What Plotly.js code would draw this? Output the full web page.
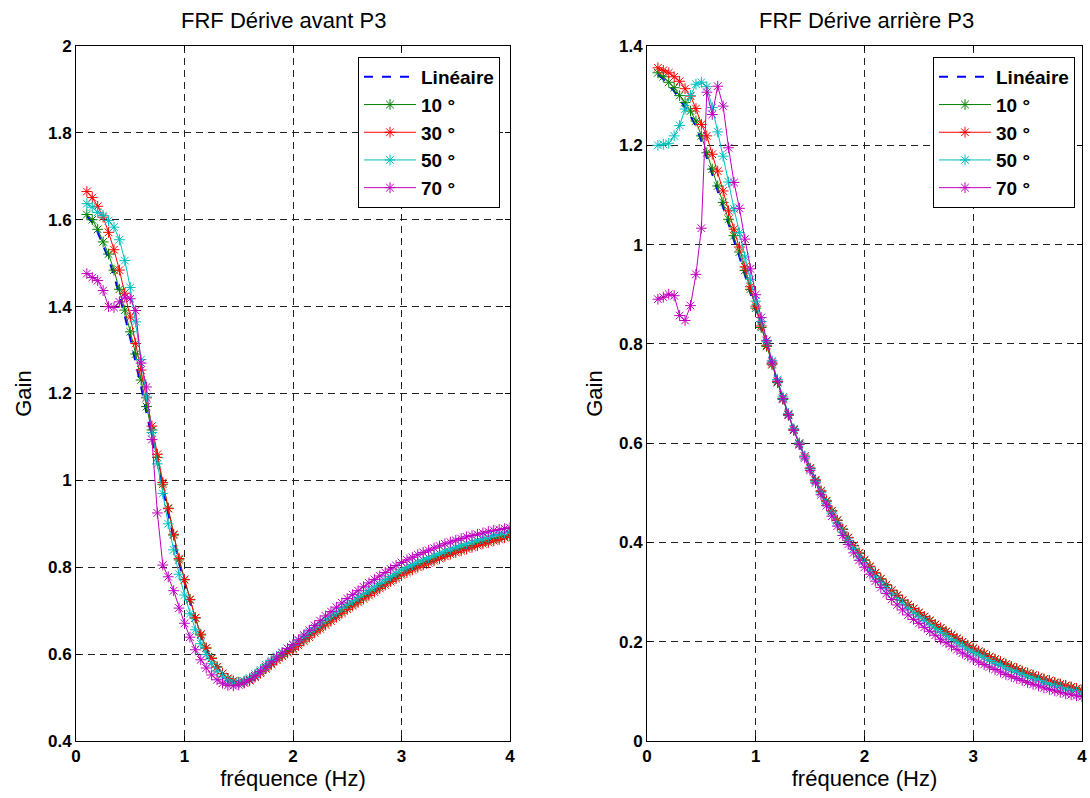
<!DOCTYPE html>
<html>
<head>
<meta charset="utf-8">
<script src="https://cdn.plot.ly/plotly-3.0.1.min.js"></script>
<style>
html,body{margin:0;padding:0;background:#fff;}
#chart{width:1090px;height:798px;}
</style>
</head>
<body>
<div id="chart"></div>
<script>
// Frequencies (Hz)
const freq = [0.10,0.15,0.20,0.25,0.30,0.35,0.40,0.45,0.50,
0.55,0.60,0.65,0.70,0.75,0.80,0.85,0.90,0.95,1.00,
1.05,1.10,1.15,1.20,1.25,1.30,1.35,1.40,1.45,1.50,
1.55,1.60,1.65,1.70,1.75,1.80,1.85,1.90,1.95,2.00,
2.05,2.10,2.15,2.20,2.25,2.30,2.35,2.40,2.45,2.50,
2.55,2.60,2.65,2.70,2.75,2.80,2.85,2.90,2.95,3.00,
3.05,3.10,3.15,3.20,3.25,3.30,3.35,3.40,3.45,3.50,
3.55,3.60,3.65,3.70,3.75,3.80,3.85,3.90,3.95,4.00];

const seriesNames = ["Linéaire","10 °","30 °","50 °","70 °"];

// Tick values and labels
const xTicks = [0, 1, 2, 3, 4];
const xTickLabels = ["0", "1", "2", "3", "4"];
const avantYTicks = [0.4, 0.6, 0.8, 1.0, 1.2, 1.4, 1.6, 1.8, 2.0];
const avantYTickLabels = ["0.4", "0.6", "0.8", "1", "1.2", "1.4", "1.6", "1.8", "2"];
const arriereYTicks = [0, 0.2, 0.4, 0.6, 0.8, 1.0, 1.2, 1.4];
const arriereYTickLabels = ["0", "0.2", "0.4", "0.6", "0.8", "1", "1.2", "1.4"];

// ---- FRF Dérive avant P3 ----
const avantLin = [1.608,1.594,1.571,1.541,1.510,1.472,1.427,1.378,1.327,
1.274,1.215,1.155,1.100,1.040,0.980,0.925,0.866,0.810,0.765,
0.720,0.679,0.641,0.612,0.589,0.570,0.554,0.544,0.538,0.535,
0.537,0.542,0.550,0.559,0.569,0.579,0.589,0.598,0.606,0.614,
0.624,0.634,0.643,0.653,0.662,0.671,0.680,0.689,0.698,0.707,
0.715,0.723,0.731,0.739,0.747,0.755,0.763,0.771,0.778,0.786,
0.792,0.798,0.804,0.809,0.814,0.819,0.824,0.829,0.834,0.838,
0.842,0.846,0.850,0.854,0.858,0.861,0.865,0.868,0.871,0.874];
const avant10 = [1.612,1.600,1.578,1.549,1.521,1.484,1.440,1.392,1.342,
1.291,1.231,1.170,1.116,1.053,0.991,0.936,0.874,0.817,0.771,
0.725,0.683,0.644,0.614,0.591,0.571,0.555,0.544,0.538,0.535,
0.537,0.542,0.550,0.559,0.569,0.579,0.589,0.598,0.606,0.614,
0.624,0.634,0.643,0.653,0.662,0.671,0.680,0.689,0.698,0.707,
0.715,0.723,0.731,0.739,0.747,0.755,0.763,0.771,0.778,0.786,
0.792,0.798,0.804,0.809,0.814,0.819,0.824,0.829,0.834,0.838,
0.842,0.846,0.850,0.854,0.858,0.861,0.865,0.868,0.871,0.874];
const avant30 = [1.665,1.651,1.631,1.606,1.571,1.531,1.484,1.431,1.376,
1.315,1.254,1.190,1.125,1.060,0.995,0.935,0.876,0.820,0.772,
0.726,0.684,0.646,0.614,0.590,0.570,0.555,0.544,0.538,0.534,
0.534,0.539,0.547,0.556,0.566,0.576,0.586,0.595,0.603,0.611,
0.620,0.630,0.639,0.649,0.658,0.667,0.676,0.685,0.694,0.703,
0.711,0.719,0.727,0.735,0.743,0.751,0.759,0.767,0.774,0.782,
0.788,0.794,0.800,0.805,0.810,0.815,0.820,0.825,0.830,0.834,
0.838,0.842,0.846,0.850,0.854,0.857,0.861,0.864,0.868,0.872];
const avant50 = [1.637,1.629,1.617,1.610,1.598,1.583,1.554,1.506,1.444,
1.365,1.278,1.192,1.110,1.038,0.970,0.900,0.840,0.784,0.736,
0.693,0.656,0.624,0.599,0.578,0.561,0.549,0.540,0.535,0.534,
0.538,0.545,0.554,0.564,0.575,0.585,0.595,0.604,0.613,0.621,
0.631,0.641,0.651,0.661,0.670,0.679,0.688,0.697,0.706,0.715,
0.723,0.731,0.739,0.747,0.755,0.763,0.771,0.779,0.786,0.794,
0.800,0.806,0.812,0.817,0.822,0.827,0.832,0.837,0.842,0.846,
0.850,0.854,0.858,0.862,0.866,0.869,0.873,0.876,0.879,0.882];
const avant70 = [1.476,1.467,1.460,1.437,1.400,1.398,1.411,1.422,1.418,
1.391,1.270,1.215,1.094,0.925,0.805,0.778,0.746,0.706,0.671,
0.639,0.610,0.587,0.568,0.552,0.541,0.533,0.528,0.527,0.529,
0.534,0.541,0.550,0.560,0.571,0.582,0.593,0.603,0.613,0.622,
0.633,0.644,0.655,0.666,0.677,0.688,0.698,0.708,0.718,0.728,
0.737,0.746,0.755,0.764,0.772,0.780,0.788,0.796,0.804,0.811,
0.817,0.823,0.829,0.834,0.839,0.844,0.849,0.854,0.858,0.862,
0.866,0.870,0.873,0.876,0.879,0.882,0.885,0.887,0.889,0.891];

// ---- FRF Dérive arrière P3 ----
const arriereLin = [1.342,1.333,1.321,1.309,1.292,1.277,1.259,1.238,1.208,
1.174,1.141,1.107,1.074,1.041,1.008,0.975,0.940,0.903,0.866,
0.830,0.793,0.757,0.722,0.688,0.656,0.626,0.598,0.573,0.549,
0.525,0.503,0.483,0.463,0.444,0.426,0.409,0.393,0.378,0.364,
0.351,0.338,0.326,0.314,0.303,0.293,0.283,0.274,0.266,0.258,
0.250,0.242,0.234,0.227,0.220,0.213,0.206,0.199,0.192,0.186,
0.180,0.175,0.169,0.164,0.159,0.154,0.149,0.145,0.140,0.136,
0.132,0.128,0.124,0.121,0.117,0.114,0.111,0.108,0.105,0.102];
const arriere10 = [1.346,1.338,1.327,1.316,1.300,1.286,1.269,1.249,1.219,
1.185,1.152,1.118,1.085,1.051,1.018,0.985,0.948,0.910,0.872,
0.833,0.795,0.758,0.722,0.688,0.656,0.626,0.598,0.573,0.549,
0.525,0.503,0.483,0.463,0.444,0.426,0.409,0.393,0.378,0.364,
0.351,0.338,0.326,0.314,0.303,0.293,0.283,0.274,0.266,0.258,
0.250,0.242,0.234,0.227,0.220,0.213,0.206,0.199,0.192,0.186,
0.180,0.175,0.169,0.164,0.159,0.154,0.149,0.145,0.140,0.136,
0.132,0.128,0.124,0.121,0.117,0.114,0.111,0.108,0.105,0.102];
const arriere30 = [1.356,1.351,1.346,1.338,1.329,1.314,1.299,1.274,1.242,
1.219,1.182,1.148,1.108,1.068,1.031,0.995,0.955,0.915,0.876,
0.836,0.797,0.760,0.724,0.690,0.658,0.628,0.600,0.574,0.550,
0.526,0.504,0.484,0.464,0.445,0.427,0.410,0.394,0.379,0.365,
0.352,0.339,0.327,0.315,0.304,0.294,0.284,0.275,0.267,0.259,
0.251,0.243,0.235,0.228,0.221,0.214,0.207,0.200,0.193,0.187,
0.181,0.176,0.170,0.165,0.160,0.155,0.150,0.146,0.141,0.137,
0.133,0.129,0.125,0.122,0.118,0.115,0.112,0.109,0.106,0.103];
const arriere50 = [1.200,1.202,1.204,1.219,1.240,1.273,1.300,1.323,1.327,
1.318,1.276,1.227,1.178,1.126,1.072,1.024,0.975,0.930,0.886,
0.845,0.805,0.766,0.728,0.693,0.660,0.629,0.600,0.573,0.548,
0.523,0.500,0.479,0.459,0.439,0.421,0.404,0.388,0.372,0.358,
0.344,0.331,0.319,0.307,0.296,0.286,0.276,0.267,0.258,0.250,
0.242,0.234,0.226,0.219,0.212,0.205,0.198,0.191,0.185,0.179,
0.173,0.168,0.162,0.157,0.152,0.147,0.143,0.138,0.134,0.130,
0.126,0.122,0.118,0.115,0.111,0.108,0.105,0.102,0.099,0.097];
const arriere70 = [0.890,0.894,0.900,0.897,0.857,0.847,0.877,0.940,1.033,
1.307,1.262,1.319,1.279,1.195,1.125,1.073,1.011,0.951,0.899,
0.853,0.807,0.763,0.725,0.690,0.657,0.626,0.597,0.570,0.545,
0.520,0.496,0.474,0.453,0.433,0.414,0.396,0.379,0.364,0.350,
0.336,0.322,0.309,0.297,0.285,0.274,0.264,0.254,0.245,0.237,
0.229,0.221,0.213,0.205,0.198,0.191,0.184,0.177,0.171,0.165,
0.159,0.154,0.149,0.144,0.139,0.134,0.130,0.126,0.122,0.118,
0.114,0.111,0.107,0.104,0.101,0.098,0.095,0.093,0.091,0.089];

const avantTitle = "FRF Dérive avant P3";
const arriereTitle = "FRF Dérive arrière P3";
const xLabel = "fréquence (Hz)";
const yLabel = "Gain";

const colors = ["#0000ff","#008000","#ff0000","#00bfbf","#bf00bf"];
const FONT = "Liberation Sans, Arial, Helvetica, sans-serif";

function makeTraces(ys, xa, ya, legendName) {
  return ys.map((y, i) => {
    const isLin = i === 0;
    const t = {
      x: freq, y: y, xaxis: xa, yaxis: ya,
      name: seriesNames[i],
      legend: legendName,
      legendgroup: legendName + i,
      mode: isLin ? "lines" : "lines+markers",
      line: {color: colors[i], width: isLin ? 2 : 1, dash: isLin ? "dash" : "solid"},
      hoverinfo: "skip"
    };
    if (!isLin) {
      t.marker = {symbol: "asterisk-open", size: 9, color: colors[i], line: {color: colors[i], width: 1}};
    }
    return t;
  });
}

const traces = [].concat(
  makeTraces([avantLin, avant10, avant30, avant50, avant70], "x", "y", "legend"),
  makeTraces([arriereLin, arriere10, arriere30, arriere50, arriere70], "x2", "y2", "legend2")
);

const bold = arr => arr.map(s => "<b>" + s + "</b>");

const W = 1090, H = 798;
const axisCommon = {
  showline: true, linecolor: "#000", linewidth: 1, mirror: "ticks",
  ticks: "inside", ticklen: 5, tickcolor: "#000", tickwidth: 1,
  showgrid: true, gridcolor: "#222", gridwidth: 1, griddash: "7px,5px",
  zeroline: false, tickmode: "array",
  tickfont: {family: FONT, size: 17, color: "#000", weight: "bold"}
};

const yDomain = [1 - 741/H, 1 - 46/H];

const legendCommon = {
  bgcolor: "#fff", bordercolor: "#000", borderwidth: 1,
  font: {family: FONT, size: 19, color: "#000", weight: "bold"},
  traceorder: "grouped", tracegroupgap: 0, itemwidth: 52,
  xanchor: "right", yanchor: "top", y: 1 - 57/H
};

const titleFont = {family: FONT, size: 22, color: "#000"};

const layout = {
  width: W, height: H,
  margin: {l: 0, r: 0, t: 0, b: 0},
  paper_bgcolor: "#fff", plot_bgcolor: "#fff",
  showlegend: true,
  font: {family: FONT, color: "#000"},
  xaxis: Object.assign({}, axisCommon, {
    domain: [76/W, 510/W], range: [0, 4], anchor: "y",
    tickvals: xTicks, ticktext: bold(xTickLabels),
    title: {text: xLabel, font: titleFont, standoff: 2}
  }),
  yaxis: Object.assign({}, axisCommon, {
    domain: yDomain, range: [0.4, 2], anchor: "x",
    tickvals: avantYTicks, ticktext: bold(avantYTickLabels),
    title: {text: yLabel, font: titleFont, standoff: 10}
  }),
  xaxis2: Object.assign({}, axisCommon, {
    domain: [647/W, 1082/W], range: [0, 4], anchor: "y2",
    tickvals: xTicks, ticktext: bold(xTickLabels),
    title: {text: xLabel, font: titleFont, standoff: 2}
  }),
  yaxis2: Object.assign({}, axisCommon, {
    domain: yDomain, range: [0, 1.4], anchor: "x2",
    tickvals: arriereYTicks, ticktext: bold(arriereYTickLabels),
    title: {text: yLabel, font: titleFont, standoff: 10}
  }),
  legend: Object.assign({}, legendCommon, {x: 500/W}),
  legend2: Object.assign({}, legendCommon, {x: 1075/W}),
  annotations: [
    {text: avantTitle, xref: "paper", yref: "paper", x: 283/W, y: 1 - 20/H, xanchor: "center", yanchor: "middle",
     showarrow: false, font: titleFont},
    {text: arriereTitle, xref: "paper", yref: "paper", x: 866/W, y: 1 - 20/H, xanchor: "center", yanchor: "middle",
     showarrow: false, font: titleFont}
  ]
};

Plotly.newPlot("chart", traces, layout, {staticPlot: true, displayModeBar: false});
</script>
</body>
</html>
